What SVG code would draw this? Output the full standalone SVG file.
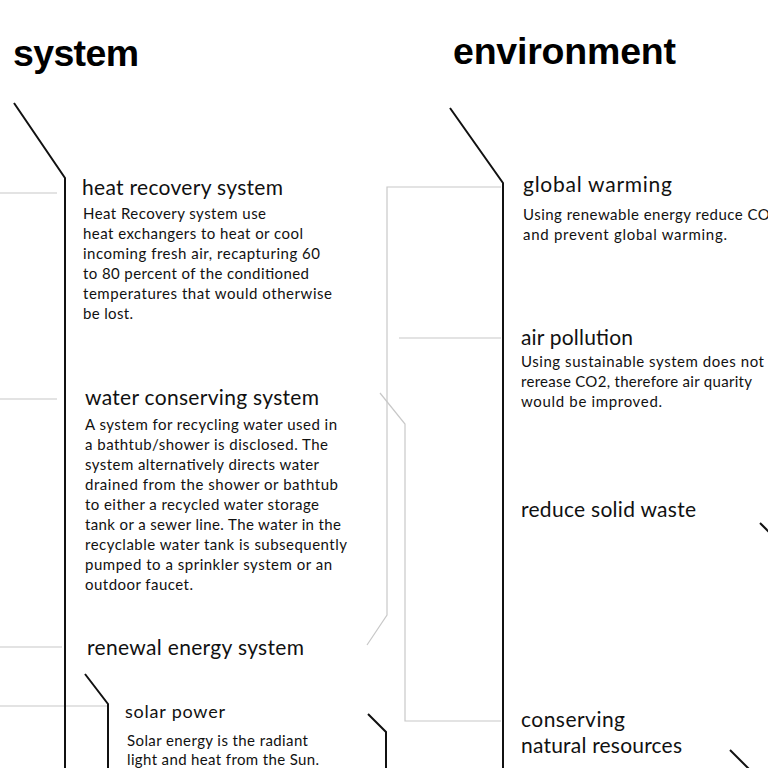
<svg xmlns="http://www.w3.org/2000/svg" width="768" height="768" viewBox="0 0 768 768">
<style>
.bg{fill:#fff}
.title{font-family:"Liberation Sans",Arial,sans-serif;font-weight:bold;font-size:37.5px;fill:#000}
.h{font-family:Lato,"Open Sans",sans-serif;font-size:21px;fill:#111}
.hs{font-family:Lato,"Open Sans",sans-serif;font-size:18px;fill:#111}
.b{font-family:Lato,"Open Sans",sans-serif;font-size:15px;fill:#111}
.spine{fill:none;stroke:#111;stroke-width:2}
.link{fill:none;stroke:#c8c8c8;stroke-width:1.2}
</style>
<rect class="bg" x="0" y="0" width="768" height="768"/>
<g id="connectors">
<path class="link" d="M0 193 H57"/>
<path class="link" d="M0 399 H57"/>
<path class="link" d="M0 647 H62"/>
<path class="link" d="M0 706 H108"/>
<path class="link" d="M501 187 H387 V615 L367 645"/>
<path class="link" d="M501 338 H399"/>
<path class="link" d="M380 393 L405 424 V721 H501"/>
<path class="spine" d="M14 103 L65 178 V768"/>
<path class="spine" d="M85 674 L108 704 V768"/>
<path class="spine" d="M368 714 L386 732 V768"/>
<path class="spine" d="M450 108 L503 183 V768"/>
<path class="spine" d="M760 523 L772 535"/>
<path class="spine" d="M730 750 L750 770"/>
</g>
<g id="title-system"><text class="title" x="13" y="66" textLength="126">system</text></g>
<g id="title-environment"><text class="title" x="453" y="64" textLength="223">environment</text></g>
<g id="heat-recovery">
<text class="h" x="82" y="195" textLength="201">heat recovery system</text>
<text class="b" x="83" y="219" textLength="183">Heat Recovery system use</text>
<text class="b" x="83" y="239" textLength="220">heat exchangers to heat or cool</text>
<text class="b" x="83" y="259" textLength="237">incoming fresh air, recapturing 60</text>
<text class="b" x="83" y="279" textLength="226">to 80 percent of the conditioned</text>
<text class="b" x="83" y="299" textLength="249">temperatures that would otherwise</text>
<text class="b" x="83" y="319" textLength="50">be lost.</text>
</g>
<g id="water-conserving">
<text class="h" x="85" y="405" textLength="234">water conserving system</text>
<text class="b" x="85" y="430" textLength="252">A system for recycling water used in</text>
<text class="b" x="85" y="450" textLength="243">a bathtub/shower is disclosed. The</text>
<text class="b" x="85" y="470" textLength="234">system alternatively directs water</text>
<text class="b" x="85" y="490" textLength="253">drained from the shower or bathtub</text>
<text class="b" x="85" y="510" textLength="234">to either a recycled water storage</text>
<text class="b" x="85" y="530" textLength="256">tank or a sewer line. The water in the</text>
<text class="b" x="85" y="550" textLength="262">recyclable water tank is subsequently</text>
<text class="b" x="85" y="570" textLength="247">pumped to a sprinkler system or an</text>
<text class="b" x="85" y="590" textLength="108">outdoor faucet.</text>
</g>
<g id="renewal-energy">
<text class="h" x="87" y="655" textLength="217">renewal energy system</text>
</g>
<g id="solar-power">
<text class="hs" x="125" y="718" textLength="100">solar power</text>
<text class="b" x="127" y="746" textLength="181">Solar energy is the radiant</text>
<text class="b" x="127" y="765" textLength="192">light and heat from the Sun.</text>
</g>
<g id="global-warming">
<text class="h" x="523" y="192" textLength="149">global warming</text>
<text class="b" x="523" y="220" textLength="256">Using renewable energy reduce CO2</text>
<text class="b" x="523" y="240" textLength="204">and prevent global warming.</text>
</g>
<g id="air-pollution">
<text class="h" x="521" y="345" textLength="112">air pollution</text>
<text class="b" x="521" y="367" textLength="243">Using sustainable system does not</text>
<text class="b" x="521" y="387" textLength="231">rerease CO2, therefore air quarity</text>
<text class="b" x="521" y="407" textLength="141">would be improved.</text>
</g>
<g id="reduce-solid-waste">
<text class="h" x="521" y="517" textLength="175">reduce solid waste</text>
</g>
<g id="conserving-natural-resources">
<text class="h" x="521" y="727" textLength="104">conserving</text>
<text class="h" x="521" y="753" textLength="161">natural resources</text>
</g>
</svg>
